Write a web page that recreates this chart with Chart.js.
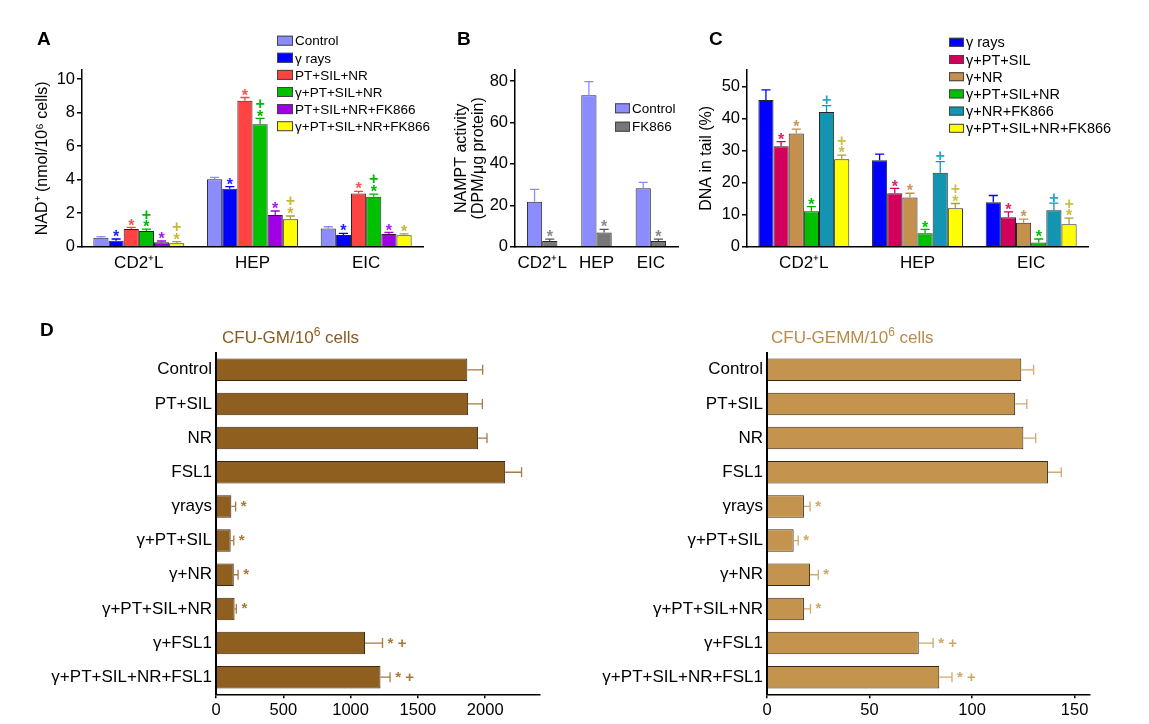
<!DOCTYPE html>
<html>
<head>
<meta charset="utf-8">
<script src="https://cdn.jsdelivr.net/npm/chart.js@4.4.1/dist/chart.umd.min.js"></script>
<style>
  body { margin: 0; background: #fff; }
  #wrap { position: relative; width: 1149px; height: 724px; overflow: hidden; font-family: "Liberation Sans", Arial, sans-serif; }
  canvas { position: absolute; left: 0; top: 0; }
  .letter { position: absolute; font-weight: bold; font-size: 19px; line-height: 19px; color: #000; }
  .head { position: absolute; font-size: 17px; line-height: 17px; white-space: nowrap; }
  .head sup { font-size: 12px; line-height: 0; vertical-align: 7px; }
</style>
</head>
<body>
<div id="wrap">
  <canvas id="chartA" width="1149" height="724"></canvas>
  <canvas id="chartB" width="1149" height="724"></canvas>
  <canvas id="chartC" width="1149" height="724"></canvas>
  <canvas id="chartGM" width="1149" height="724"></canvas>
  <canvas id="chartGEMM" width="1149" height="724"></canvas>
  <div class="letter" style="left:37px;top:29px">A</div>
  <div class="letter" style="left:457px;top:29px">B</div>
  <div class="letter" style="left:709px;top:29px">C</div>
  <div class="letter" style="left:40px;top:320px">D</div>
  <div class="head" style="left:222px;top:329px;color:#8b5a1e">CFU-GM/10<sup>6</sup> cells</div>
  <div class="head" style="left:771px;top:329px;color:#b98a48">CFU-GEMM/10<sup>6</sup> cells</div>
</div>
<script>
const W = 1149, H = 724;
Chart.defaults.font.family = '"Liberation Sans", Arial, sans-serif';
Chart.defaults.color = '#000';

// ---- data ----
const cellGroups = ['CD2⁺L', 'HEP', 'EIC'];

// A: NAD+ (nmol/10^6 cells)
const nadNames = ['Control', 'γ rays', 'PT+SIL+NR', 'γ+PT+SIL+NR', 'PT+SIL+NR+FK866', 'γ+PT+SIL+NR+FK866'];
const nadMean = [
  [0.54, 4.02, 1.09],
  [0.36, 3.46, 0.7],
  [1.05, 8.71, 3.18],
  [0.93, 7.3, 2.98],
  [0.26, 1.89, 0.76],
  [0.2, 1.63, 0.68]
];
const nadErr = [
  [0.06, 0.12, 0.1],
  [0.1, 0.12, 0.1],
  [0.1, 0.19, 0.12],
  [0.12, 0.35, 0.16],
  [0.08, 0.24, 0.09],
  [0.1, 0.2, 0.08]
];
const nadSig = [
  ['', '', ''],
  ['*', '*', '*'],
  ['*', '*', '*'],
  ['+*', '+*', '+*'],
  ['*', '*', '*'],
  ['+*', '+*', '*']
];
const nadTicks = [0, 2, 4, 6, 8, 10];

// B: NAMPT activity
const namptNames = ['Control', 'FK866'];
const namptMean = [
  [21.7, 73.1, 28.2],
  [2.7, 6.9, 2.7]
];
const namptErr = [
  [6, 6.6, 2.9],
  [1, 1.5, 1]
];
const namptSig = [
  ['', '', ''],
  ['*', '*', '*']
];
const namptTicks = [0, 20, 40, 60, 80];

// C: DNA in tail (%)
const tailNames = ['γ rays', 'γ+PT+SIL', 'γ+NR', 'γ+PT+SIL+NR', 'γ+NR+FK866', 'γ+PT+SIL+NR+FK866'];
const tailMean = [
  [45.8, 27, 13.9],
  [31.4, 16.7, 9.2],
  [35.4, 15.4, 7.5],
  [11.1, 4.2, 1.35],
  [42.1, 23.1, 11.4],
  [27.3, 12, 7]
];
const tailErr = [
  [3.2, 1.9, 2.1],
  [1.4, 1.5, 1.7],
  [1.3, 1.3, 1.1],
  [1.4, 1.2, 1.05],
  [2, 3.5, 2.2],
  [1.3, 1.5, 1.9]
];
const tailSig = [
  ['', '', ''],
  ['*', '*', '*'],
  ['*', '*', '*'],
  ['*', '*', '*'],
  ['+', '+', '+'],
  ['+*', '+*', '+*']
];
const tailTicks = [0, 10, 20, 30, 40, 50];

// D: colony forming units
const cfuGroups = ['Control', 'PT+SIL', 'NR', 'FSL1', 'γrays', 'γ+PT+SIL', 'γ+NR', 'γ+PT+SIL+NR', 'γ+FSL1', 'γ+PT+SIL+NR+FSL1'];
const gmMean = [1867, 1873, 1947, 2148, 114, 109, 132, 138, 1107, 1222];
const gmErr = [114, 106, 66, 122, 32, 23, 32, 13, 130, 71];
const gemmMean = [124, 121, 125, 137, 18, 13, 21, 18, 74, 84];
const gemmErr = [6, 5.7, 6, 6.5, 3, 2.2, 4, 3.2, 7, 6.2];
const cfuSig = ['', '', '', '', '*', '*', '*', '*', '*+', '*+'];
const gmTicks = [0, 500, 1000, 1500, 2000];
const gemmTicks = [0, 50, 100, 150];

// ---- plugins ----
// baseline shift (in em) for the significance glyphs
const liftUp = { '*': 0.57, '+': 0.34 };   // stacked above vertical bars
const liftSide = { '*': 0.3, '+': 0.34 };  // in a row beside horizontal bars

const errBars = {
  id: 'errBars',
  afterDatasetsDraw(chart) {
    const ctx = chart.ctx;
    const horiz = chart.options.indexAxis === 'y';
    const vScale = horiz ? chart.scales.x : chart.scales.y;
    chart.data.datasets.forEach((ds, i) => {
      const meta = chart.getDatasetMeta(i);
      meta.data.forEach((bar, j) => {
        const end = vScale.getPixelForValue(ds.data[j] + ds.err[j]);
        ctx.save();
        ctx.strokeStyle = ds.errColor;
        ctx.lineWidth = 1.3;
        ctx.beginPath();
        if (horiz) {
          const cap = bar.height * 0.22;
          ctx.moveTo(bar.x, bar.y); ctx.lineTo(end, bar.y);
          ctx.moveTo(end, bar.y - cap); ctx.lineTo(end, bar.y + cap);
        } else {
          const cap = bar.width * 0.3;
          ctx.moveTo(bar.x, bar.y); ctx.lineTo(bar.x, end);
          ctx.moveTo(bar.x - cap, end); ctx.lineTo(bar.x + cap, end);
        }
        ctx.stroke();
        const s = ds.sig[j];
        if (s) {
          const fs = ds.sigSize;
          ctx.fillStyle = ds.sigColor;
          ctx.font = ds.sigWeight + ' ' + fs + 'px "Liberation Sans", Arial, sans-serif';
          ctx.textAlign = 'center';
          ctx.textBaseline = 'alphabetic';
          if (horiz) {
            [...s].forEach((ch, k) => {
              ctx.fillText(ch, end + 8 + k * 11.5, bar.y + liftSide[ch] * fs);
            });
          } else {
            [...s].reverse().forEach((ch, k) => {
              ctx.fillText(ch, bar.x, end - 6 - k * 9 + liftUp[ch] * fs);
            });
          }
        }
        ctx.restore();
      });
    });
  }
};

const boxLegend = {
  id: 'boxLegend',
  afterDraw(chart, args, o) {
    if (!o || o.x === undefined) return;
    const ctx = chart.ctx;
    ctx.save();
    ctx.font = o.size + 'px "Liberation Sans", Arial, sans-serif';
    ctx.textBaseline = 'middle';
    ctx.textAlign = 'left';
    chart.data.datasets.forEach((ds, i) => {
      const y = o.y + i * o.dy;
      ctx.fillStyle = ds.backgroundColor;
      ctx.fillRect(o.x, y - o.h / 2, o.w, o.h);
      ctx.strokeStyle = '#444';
      ctx.lineWidth = 1;
      ctx.strokeRect(o.x + 0.5, y - o.h / 2 + 0.5, o.w - 1, o.h - 1);
      ctx.fillStyle = '#000';
      ctx.fillText(ds.label, o.tx, y + 1);
    });
    ctx.restore();
  }
};

// ---- grouped vertical bar panels ----
function groupedBars(id, o) {
  const a = o.area;
  return new Chart(document.getElementById(id), {
    type: 'bar',
    data: {
      labels: cellGroups,
      datasets: o.names.map((n, i) => ({
        label: n,
        data: o.mean[i],
        err: o.err[i],
        sig: o.sig[i],
        backgroundColor: o.colors[i],
        borderColor: '#262626',
        borderWidth: 1,
        errColor: o.errColors[i],
        sigColor: o.sigColors[i],
        sigSize: 16,
        sigWeight: 'bold',
        categoryPercentage: o.catPct,
        barPercentage: 1
      }))
    },
    options: {
      responsive: false,
      animation: false,
      layout: { padding: { left: a.padL, top: a.T, right: W - a.R, bottom: 0 } },
      plugins: { legend: { display: false }, tooltip: { enabled: false }, boxLegend: o.legend },
      scales: {
        x: {
          grid: { display: false, drawTicks: false },
          border: { color: '#000', width: 1.5 },
          ticks: { font: { size: 17 }, color: '#000', padding: 6, maxRotation: 0, autoSkip: false },
          afterFit: s => { s.height = H - a.B; }
        },
        y: {
          min: 0,
          max: o.yMax,
          afterBuildTicks: s => { s.ticks = o.ticks.map(v => ({ value: v })); },
          grid: { drawOnChartArea: false, drawTicks: true, tickLength: 5, color: '#000', lineWidth: 1.5 },
          border: { color: '#000', width: 1.5 },
          ticks: { font: { size: 16.5 }, color: '#000', padding: 2 },
          title: { display: true, text: o.yTitle, font: { size: 16, lineHeight: 1.05 }, color: '#000', padding: 0 },
          afterFit: s => { s.width = a.L - a.padL; }
        }
      }
    },
    plugins: [errBars, boxLegend]
  });
}

groupedBars('chartA', {
  names: nadNames, mean: nadMean, err: nadErr, sig: nadSig, ticks: nadTicks, yMax: 10.54,
  colors: ['#8c8cff', '#0000ff', '#ff4242', '#00c000', '#a000e4', '#ffff00'],
  errColors: ['#8c8cff', '#0000ff', '#ff4242', '#00b000', '#a000e4', '#a8a040'],
  sigColors: ['#000', '#2020ff', '#ff5050', '#00b800', '#a020e0', '#c8b830'],
  yTitle: 'NAD⁺ (nmol/10⁶ cells)',
  catPct: 0.8,
  area: { L: 82, T: 70, R: 423, B: 246.7, padL: 34 },
  legend: { x: 277, y: 40.7, dy: 17.1, w: 16, h: 10, tx: 295, size: 13.5 }
});

groupedBars('chartB', {
  names: namptNames, mean: namptMean, err: namptErr, sig: namptSig, ticks: namptTicks, yMax: 85.3,
  colors: ['#8c8cff', '#777777'],
  errColors: ['#8c8cff', '#555555'],
  sigColors: ['#000', '#8a8a8a'],
  yTitle: ['NAMPT activity', '(DPM/μg protein)'],
  catPct: 0.56,
  area: { L: 515, T: 70, R: 678, B: 246.7, padL: 453 },
  legend: { x: 615, y: 108.3, dy: 18.4, w: 15, h: 10, tx: 632, size: 13.5 }
});

groupedBars('chartC', {
  names: tailNames, mean: tailMean, err: tailErr, sig: tailSig, ticks: tailTicks, yMax: 55.2,
  colors: ['#0000ff', '#d2005c', '#c4904e', '#00c000', '#1394b0', '#ffff00'],
  errColors: ['#0000ff', '#d2005c', '#c4904e', '#00b000', '#1394b0', '#a8a040'],
  sigColors: ['#000', '#e0206c', '#c8975a', '#00c000', '#20a8d0', '#c8c040'],
  yTitle: 'DNA in tail (%)',
  catPct: 0.8,
  area: { L: 747, T: 70, R: 1088, B: 246.7, padL: 698.4 },
  legend: { x: 949, y: 42.3, dy: 17.2, w: 15, h: 9, tx: 966, size: 14.5 }
});

// ---- horizontal CFU panels ----
function cfuBars(id, o) {
  const a = o.area;
  return new Chart(document.getElementById(id), {
    type: 'bar',
    data: {
      labels: cfuGroups,
      datasets: [{
        label: o.label,
        data: o.mean,
        err: o.err,
        sig: cfuSig,
        backgroundColor: o.color,
        borderColor: '#3a2810',
        borderWidth: 1,
        errColor: o.errColor,
        sigColor: o.sigColor,
        sigSize: 15,
        sigWeight: 'bold',
        categoryPercentage: 1,
        barPercentage: 0.66
      }]
    },
    options: {
      indexAxis: 'y',
      responsive: false,
      animation: false,
      layout: { padding: { left: a.padL, top: a.T, right: W - a.R, bottom: 0 } },
      plugins: { legend: { display: false }, tooltip: { enabled: false } },
      scales: {
        y: {
          grid: { display: false, drawTicks: false },
          border: { color: '#000', width: 2 },
          ticks: { font: { size: 17 }, color: '#000', padding: 4, autoSkip: false },
          afterFit: s => { s.width = a.L - a.padL; }
        },
        x: {
          min: 0,
          max: o.max,
          afterBuildTicks: s => { s.ticks = o.ticks.map(v => ({ value: v })); },
          grid: { drawOnChartArea: false, drawTicks: true, tickLength: 4, color: '#000', lineWidth: 1.5 },
          border: { color: '#000', width: 1.5 },
          ticks: { font: { size: 16.5 }, color: '#000', padding: 2, maxRotation: 0, callback: v => String(v) },
          afterFit: s => { s.height = H - a.B; }
        }
      }
    },
    plugins: [errBars]
  });
}

cfuBars('chartGM', {
  label: 'CFU-GM/10⁶ cells', mean: gmMean, err: gmErr, ticks: gmTicks, max: 2407,
  color: '#8f5f20', errColor: '#a57a44', sigColor: '#a87838',
  area: { L: 216, T: 352.7, R: 540, B: 694.3, padL: 16 }
});

cfuBars('chartGEMM', {
  label: 'CFU-GEMM/10⁶ cells', mean: gemmMean, err: gemmErr, ticks: gemmTicks, max: 157.5,
  color: '#c4944f', errColor: '#cfa872', sigColor: '#d0a868',
  area: { L: 767, T: 352.7, R: 1090, B: 694.3, padL: 567 }
});
</script>
</body>
</html>
